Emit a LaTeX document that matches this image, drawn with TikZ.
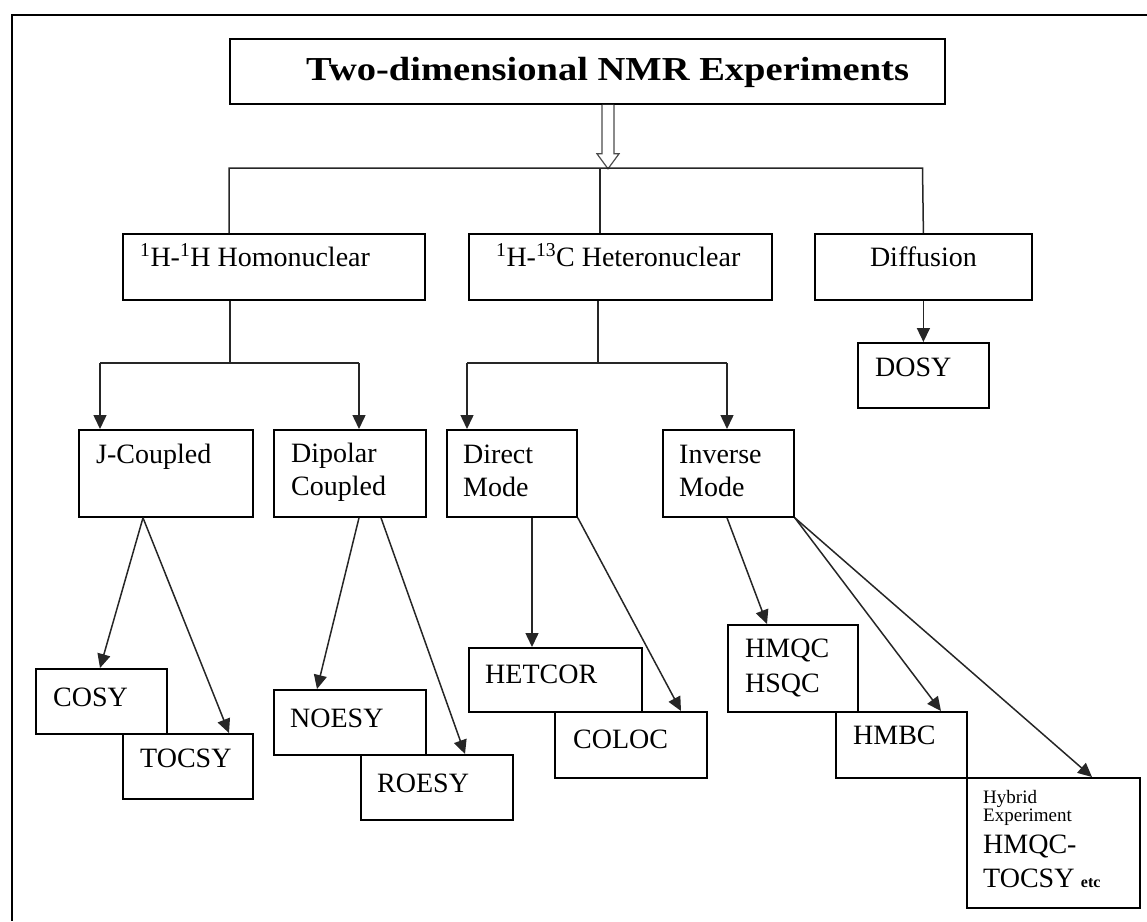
\documentclass[tikz,border=0pt]{standalone}
\usepackage{fontspec}
\setmainfont{Liberation Serif}
\newfontfamily\titlefont{Liberation Serif}[FakeStretch=1.15]
\usetikzlibrary{arrows.meta,calc}
\begin{document}
\begin{tikzpicture}[x=1pt,y=-1pt,
  boxst/.style={draw=black, fill=white, line width=1.8pt, inner sep=0pt, anchor=north west},
  conn/.style={line width=1.5pt, draw=black!85},
  arr/.style={conn, -{Triangle[length=14pt,width=13pt]}},
  hollow/.style={line width=1.2pt, draw=black!70, fill=white},
  txt/.style={inner sep=0pt, anchor=base west, font=\fontsize{28}{32}\selectfont},
  ctxt/.style={txt, anchor=base},
  ttl/.style={inner sep=0pt, anchor=base west, font=\titlefont\bfseries\fontsize{33.5}{38}\selectfont},
  small/.style={inner sep=0pt, anchor=base west, font=\fontsize{19}{22}\selectfont},
  tiny/.style={inner sep=0pt, anchor=base west, font=\fontsize{16}{18}\selectfont\bfseries}
]
\useasboundingbox (0,0) rectangle (1147,921);
% outer frame
\draw[line width=1.8pt] (1147,15) -- (12,15) -- (12,921);

% boxes
\node[boxst, minimum width=715pt, minimum height=65pt] (title) at (229,38) {};
\node[boxst, minimum width=302pt, minimum height=66pt] (homo) at (122,233) {};
\node[boxst, minimum width=303pt, minimum height=66pt] (hetero) at (468,233) {};
\node[boxst, minimum width=217pt, minimum height=66pt] (diff) at (814,233) {};
\node[boxst, minimum width=174pt, minimum height=87pt] (jc) at (78,429) {};
\node[boxst, minimum width=152pt, minimum height=87pt] (dip) at (273,429) {};
\node[boxst, minimum width=130pt, minimum height=87pt] (dirm) at (446,429) {};
\node[boxst, minimum width=131pt, minimum height=87pt] (inv) at (662,429) {};
\node[boxst, minimum width=131pt, minimum height=65pt] (dosy) at (857,342) {};
\node[boxst, minimum width=131pt, minimum height=65pt] (cosy) at (35,668) {};
\node[boxst, minimum width=130pt, minimum height=65pt] (tocsy) at (122,733) {};
\node[boxst, minimum width=152pt, minimum height=65pt] (noesy) at (273,689) {};
\node[boxst, minimum width=152pt, minimum height=65pt] (roesy) at (360,754) {};
\node[boxst, minimum width=173pt, minimum height=64pt] (hetcor) at (468,647) {};
\node[boxst, minimum width=152pt, minimum height=66pt] (coloc) at (554,711) {};
\node[boxst, minimum width=130pt, minimum height=87pt] (hmqc) at (727,624) {};
\node[boxst, minimum width=131pt, minimum height=66pt] (hmbc) at (835,711) {};
\node[boxst, minimum width=173pt, minimum height=130pt] (hybrid) at (966,777) {};

% texts
\node[ttl] (titlet) at ($(title.north west)+(77,42)$) {Two-dimensional NMR Experiments};
\node[txt] (homot) at ($(homo.north west)+(18,33)$) {\textsuperscript{1}H-\textsuperscript{1}H Homonuclear};
\node[txt] (hetet) at ($(hetero.north west)+(28,33)$) {\textsuperscript{1}H-\textsuperscript{13}C Heteronuclear};
\node[ctxt] (difft) at ($(diff.north)+(0,33)$) {Diffusion};
\node[txt] (jct) at ($(jc.north west)+(18,34)$) {J-Coupled};
\node[txt] (dipt1) at ($(dip.north west)+(18,33)$) {Dipolar};
\node[txt] (dipt2) at ($(dip.north west)+(18,66)$) {Coupled};
\node[txt] (dirt1) at ($(dirm.north west)+(17,34)$) {Direct};
\node[txt] (dirt2) at ($(dirm.north west)+(17,67)$) {Mode};
\node[txt] (invt1) at ($(inv.north west)+(17,34)$) {Inverse};
\node[txt] (invt2) at ($(inv.north west)+(17,67)$) {Mode};
\node[txt] (dosyt) at ($(dosy.north west)+(18,34)$) {DOSY};
\node[txt] (cosyt) at ($(cosy.north west)+(18,38)$) {COSY};
\node[txt] (tocsyt) at ($(tocsy.north west)+(18,34)$) {TOCSY};
\node[txt] (noesyt) at ($(noesy.north west)+(17,38)$) {NOESY};
\node[txt] (roesyt) at ($(roesy.north west)+(17,38)$) {ROESY};
\node[txt] (hetcort) at ($(hetcor.north west)+(17,36)$) {HETCOR};
\node[txt] (coloct) at ($(coloc.north west)+(19,37)$) {COLOC};
\node[txt] (hmqct1) at ($(hmqc.north west)+(18,33)$) {HMQC};
\node[txt] (hmqct2) at ($(hmqc.north west)+(18,68)$) {HSQC};
\node[txt] (hmbct) at ($(hmbc.north west)+(18,33)$) {HMBC};
\node[small] (hybt1) at ($(hybrid.north west)+(17,26)$) {Hybrid};
\node[small] (hybt2) at ($(hybrid.north west)+(17,44)$) {Experiment};
\node[txt] (hybt3) at ($(hybrid.north west)+(17,76)$) {HMQC-};
\node[txt] (hybt4) at ($(hybrid.north west)+(17,110)$) {TOCSY};
\node[tiny] (hybt5) at ($(hybt4.base east)+(6,0)$) {etc};

% hollow arrow from title to the bar
\draw[hollow] ($(title.south west)+(373,0)$) -- ++(0,49) -- ++(-5,0) -- ++(11,15)
  -- ++(11,-15) -- ++(-5,0) -- ++(0,-49);

% top bar
\coordinate (b1) at (229,168);
\coordinate (b2) at (600,168);
\coordinate (b3) at (922.5,168);
\draw[conn] (b1 |- homo.north) -- (b1) -- (b3) -- (diff.north);
\draw[conn] (b2) -- (b2 |- hetero.north);

% homonuclear split
\coordinate (h1) at (230,363);
\coordinate (h1l) at (100,363);
\coordinate (h1r) at (359,363);
\draw[conn] (h1 |- homo.south) -- (h1);
\draw[conn] (h1l) -- (h1r);
\draw[arr] (h1l) -- (h1l |- jc.north);
\draw[arr] (h1r) -- (h1r |- dip.north);

% heteronuclear split
\coordinate (h2) at (598,363);
\coordinate (h2l) at (467,363);
\coordinate (h2r) at (727,363);
\draw[conn] (h2 |- hetero.south) -- (h2);
\draw[conn] (h2l) -- (h2r);
\draw[arr] (h2l) -- (h2l |- dirm.north);
\draw[arr] (h2r) -- (h2r |- inv.north);

% diffusion
\draw[arr] (diff.south) -- (dosy.north);

% level 3
\draw[arr] ($(jc.south west)+(65,0)$) -- ($(cosy.north west)+(65,0)$);
\draw[arr] ($(jc.south west)+(65,0)$) -- ($(tocsy.north west)+(107,0)$);
\draw[arr] ($(dip.south west)+(86,0)$) -- ($(noesy.north west)+(44,0)$);
\draw[arr] ($(dip.south west)+(108,0)$) -- ($(roesy.north west)+(105,0)$);
\draw[arr] ($(dirm.south west)+(86,0)$) -- ($(hetcor.north west)+(64,0)$);
\draw[arr] (dirm.south east) -- ($(coloc.north west)+(127,0)$);
\draw[arr] ($(inv.south west)+(65,0)$) -- ($(hmqc.north west)+(40,0)$);
\draw[arr] (inv.south east) -- ($(hmbc.north west)+(106,0)$);
\draw[arr] (inv.south east) -- ($(hybrid.north west)+(126,0)$);
\end{tikzpicture}
\end{document}
